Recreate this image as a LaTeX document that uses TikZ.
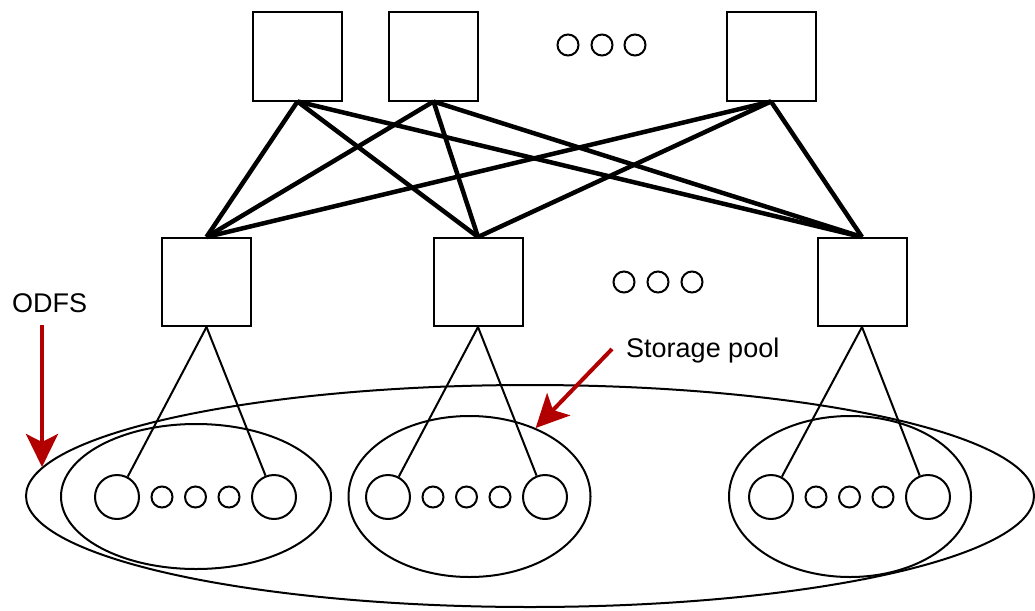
\documentclass[tikz,border=0pt]{standalone}
\usepackage{fontspec}
\setmainfont{Liberation Sans}
\usetikzlibrary{shapes.geometric, arrows.meta, positioning}
\definecolor{odfsred}{HTML}{B20000}

\begin{document}
\begin{tikzpicture}[x=1pt,y=-1pt,node distance=10.5pt]
\tikzstyle{server} = [rectangle, minimum width=89pt, minimum height=88pt, draw=black, line width=2pt, inner sep=0pt]
\tikzstyle{dot} = [circle, minimum size=21pt, draw=black, line width=2pt, inner sep=0pt]
\tikzstyle{disk} = [circle, minimum size=44pt, draw=black, line width=2pt, inner sep=0pt]
\tikzstyle{pool} = [ellipse, draw=black, line width=2pt, inner sep=0pt]
\tikzstyle{note} = [inner sep=0pt, font=\fontsize{27pt}{32pt}\selectfont]

\tikzstyle{link} = [line width=4.5pt]
\tikzstyle{leg} = [line width=2pt]
\tikzstyle{pointer} = [line width=4pt, draw=odfsred, -{Stealth[length=33pt,width=32pt,inset=8pt,fill=odfsred]}]

\useasboundingbox (0,0) rectangle (1035,610);

% upper row
\node (t1) [server] at (297.5,56.5) {};
\node (t2) [server] at (433.5,56.5) {};
\node (t3) [server] at (771,56.5) {};
\node (td1) [dot] at (568,45) {};
\node (td2) [dot] at (602,45) {};
\node (td3) [dot] at (635,45) {};

% lower row
\node (m1) [server] at (206.5,282) {};
\node (m2) [server] at (478,282) {};
\node (m3) [server] at (862,282) {};
\node (md1) [dot] at (624,282) {};
\node (md2) [dot] at (658,282) {};
\node (md3) [dot] at (692,282) {};

% pools
\node (fs) [pool, minimum width=1008pt, minimum height=222pt] at (530,496) {};
\node (p1) [pool, minimum width=270pt, minimum height=145pt] at (196,496.5) {};
\node (p2) [pool, minimum width=242pt, minimum height=161pt] at (469.5,496.5) {};
\node (p3) [pool, minimum width=242pt, minimum height=161pt] at (850,496.5) {};

\node (p1a) [disk] at (117,497) {};
\node (p1b) [dot,right=of p1a] {};
\node (p1c) [dot,right=of p1b] {};
\node (p1d) [dot,right=of p1c] {};
\node (p1e) [disk,right=of p1d] {};

\node (p2a) [disk] at (388,497) {};
\node (p2b) [dot,right=of p2a] {};
\node (p2c) [dot,right=of p2b] {};
\node (p2d) [dot,right=of p2c] {};
\node (p2e) [disk,right=of p2d] {};

\node (p3a) [disk] at (771,497) {};
\node (p3b) [dot,right=of p3a] {};
\node (p3c) [dot,right=of p3b] {};
\node (p3d) [dot,right=of p3c] {};
\node (p3e) [disk,right=of p3d] {};

% labels
\node (odfs) [note, anchor=base west] at (12,312) {ODFS};
\node (sp) [note, anchor=base west] at (626,357) {Storage pool};
\coordinate (odfstail) at (42,325);
\coordinate (odfstip) at (42,467);
\coordinate (sptail) at (612,349);

\draw [link] (t1.south) -- (m1.north);
\draw [link] (t1.south) -- (m2.north);
\draw [link] (t1.south) -- (m3.north);
\draw [link] (t2.south) -- (m1.north);
\draw [link] (t2.south) -- (m2.north);
\draw [link] (t2.south) -- (m3.north);
\draw [link] (t3.south) -- (m1.north);
\draw [link] (t3.south) -- (m2.north);
\draw [link] (t3.south) -- (m3.north);

\draw [leg] (m1.south) -- (p1a);
\draw [leg] (m1.south) -- (p1e);
\draw [leg] (m2.south) -- (p2a);
\draw [leg] (m2.south) -- (p2e);
\draw [leg] (m3.south) -- (p3a);
\draw [leg] (m3.south) -- (p3e);

\draw [pointer] (odfstail) -- (odfstip);
\draw [pointer] (sptail) -- (p2);

\end{tikzpicture}
\end{document}
